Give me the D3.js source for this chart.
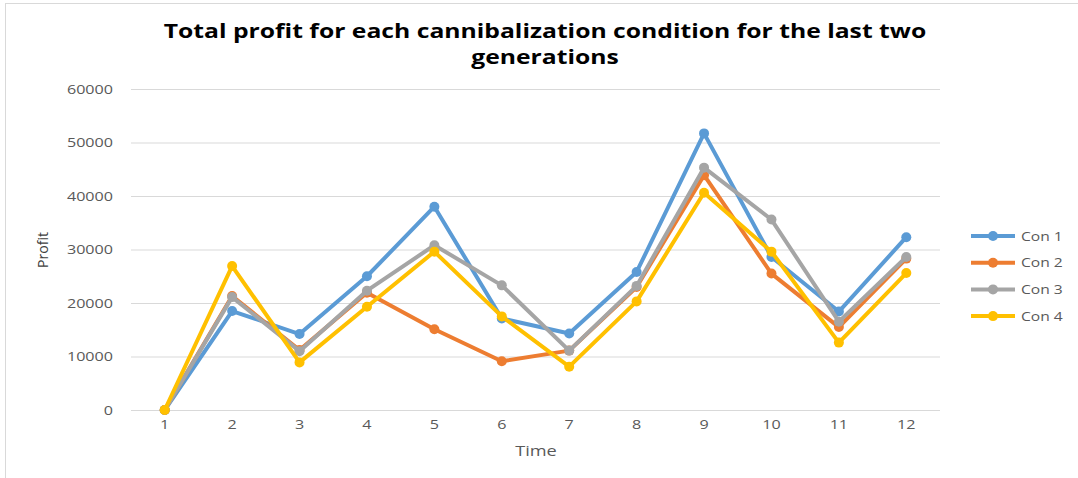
<!DOCTYPE html>
<html>
<head>
<meta charset="utf-8">
<script src="https://cdn.jsdelivr.net/npm/d3@7"></script>
<style>
  body { margin: 0; background: #fff; }
  svg { display: block; }
  .axis text { font-family: "Open Sans", sans-serif; font-size: 13px; fill: #595959; }
  .axis path { display: none; }
  .axis.y line { stroke: #d9d9d9; }
  .axis.x line { display: none; }
</style>
</head>
<body>
<div id="chart"></div>
<script>
// data
var times = ["1", "2", "3", "4", "5", "6", "7", "8", "9", "10", "11", "12"]
var seriesNames = ["Con 1", "Con 2", "Con 3", "Con 4"]
var con1 = [0, 18500, 14200, 25000, 38000, 17100, 14300, 25800, 51700, 28600, 18400, 32300]
var con2 = [0, 21300, 11200, 21900, 15100, 9100, 11100, 23000, 43900, 25500, 15500, 28300]
var con3 = [0, 21100, 11000, 22300, 30800, 23300, 11100, 23200, 45300, 35600, 16500, 28600]
var con4 = [0, 26900, 8900, 19300, 29600, 17500, 8100, 20300, 40600, 29600, 12600, 25600]
var yTicks = [0, 10000, 20000, 30000, 40000, 50000, 60000]
var colors = ["#5b9bd5", "#ed7d31", "#a5a5a5", "#ffc000"]

var series = [con1, con2, con3, con4].map(function (vals, i) {
    return { name: seriesNames[i], color: colors[i], values: vals }
})

var width = 1078, height = 478
var margin = {top: 89, left: 131, right: 138, bottom: 68}
var chartWidth = width - margin.left - margin.right
var chartHeight = height - margin.top - margin.bottom

var svg = d3.select("#chart").append("svg")
    .attr("width", width).attr("height", height)

// the original picture is a bit stretched sideways, so widen the text
function stretch(sel, k) {
    sel.each(function () {
        var w = this.getComputedTextLength()
        d3.select(this).attr("textLength", w * k).attr("lengthAdjust", "spacingAndGlyphs")
    })
}

// outer border
svg.append("rect")
    .attr("x", 5.5).attr("y", 3.5)
    .attr("width", width).attr("height", height)
    .attr("fill", "none").attr("stroke", "#d9d9d9")

var xScale = d3.scaleBand().domain(times).range([0, chartWidth])
var yScale = d3.scaleLinear().domain([0, 60000]).range([chartHeight, 0])

var chartLayer = svg.append("g")
    .attr("transform", "translate(" + [margin.left, margin.top] + ")")

chartLayer.append("g")
    .attr("class", "axis y")
    .call(d3.axisLeft(yScale).tickValues(yTicks).tickFormat(d3.format("d"))
        .tickSize(-chartWidth).tickPadding(18))

chartLayer.append("g")
    .attr("class", "axis x")
    .attr("transform", "translate(0," + chartHeight + ")")
    .call(d3.axisBottom(xScale).tickSize(0).tickPadding(10))

stretch(chartLayer.selectAll(".axis text"), 1.24)

var line = d3.line()
    .x(function (d, i) { return xScale(times[i]) + xScale.bandwidth() / 2 })
    .y(function (d) { return yScale(d) })

var groups = chartLayer.selectAll(".series").data(series)
    .enter().append("g").attr("class", "series")

groups.append("path")
    .attr("d", function (d) { return line(d.values) })
    .attr("fill", "none")
    .attr("stroke", function (d) { return d.color })
    .attr("stroke-width", 4)
    .attr("stroke-linejoin", "round")

groups.selectAll("circle")
    .data(function (d) { return d.values.map(function (v, i) { return {v: v, i: i, color: d.color} }) })
    .enter().append("circle")
    .attr("cx", function (d) { return xScale(times[d.i]) + xScale.bandwidth() / 2 })
    .attr("cy", function (d) { return yScale(d.v) })
    .attr("r", 5)
    .attr("fill", function (d) { return d.color })

// title
var title = svg.append("text")
    .attr("x", 545).attr("y", 38)
    .attr("text-anchor", "middle")
    .style("font-family", "'Open Sans', sans-serif")
    .style("font-weight", "bold")
    .style("font-size", "19px")
    .style("fill", "#000")
title.append("tspan").attr("x", 545).text("Total profit for each cannibalization condition for the last two")
title.append("tspan").attr("x", 545).attr("dy", 26).text("generations")
stretch(title.selectAll("tspan"), 1.3)

// axis titles
svg.append("text")
    .attr("transform", "translate(48,250) rotate(-90)")
    .attr("text-anchor", "middle")
    .style("font-family", "'Liberation Sans Narrow', 'Open Sans', sans-serif")
    .style("font-size", "14px")
    .style("fill", "#404040")
    .text("Profit")

var xTitle = svg.append("text")
    .attr("x", 536).attr("y", 456)
    .attr("text-anchor", "middle")
    .style("font-family", "'Open Sans', sans-serif")
    .style("font-size", "14px")
    .style("fill", "#595959")
    .text("Time")
stretch(xTitle, 1.3)

// legend
var legend = svg.append("g").attr("transform", "translate(971,236)")
var item = legend.selectAll(".item").data(series)
    .enter().append("g").attr("class", "item")
    .attr("transform", function (d, i) { return "translate(0," + i * 26.7 + ")" })
item.append("line")
    .attr("x1", 0).attr("x2", 44)
    .attr("stroke", function (d) { return d.color })
    .attr("stroke-width", 4)
item.append("circle")
    .attr("cx", 22).attr("r", 5)
    .attr("fill", function (d) { return d.color })
item.append("text")
    .attr("x", 50).attr("dy", "0.35em")
    .style("font-family", "'Open Sans', sans-serif")
    .style("font-size", "13px")
    .style("fill", "#595959")
    .text(function (d) { return d.name })
stretch(item.selectAll("text"), 1.2)
</script>
</body>
</html>
